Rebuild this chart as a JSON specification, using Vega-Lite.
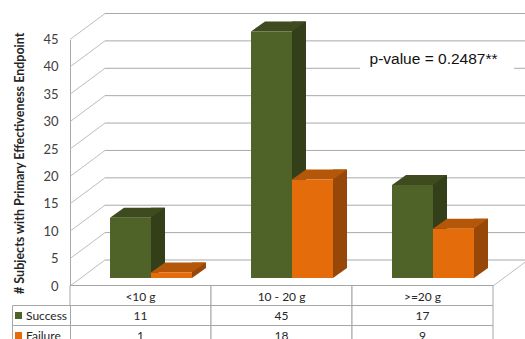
{
  "$schema": "https://vega.github.io/schema/vega-lite/v6.json",
  "width": 525,
  "height": 339,
  "padding": 0,
  "autosize": {"type": "none"},
  "background": "white",
  "config": {"view": {"stroke": null}, "font": "Lato"},
  "datasets": {
    "counts": [
      {"category": "<10 g", "outcome": "Success", "count": 11},
      {"category": "<10 g", "outcome": "Failure", "count": 1},
      {"category": "10 - 20 g", "outcome": "Success", "count": 45},
      {"category": "10 - 20 g", "outcome": "Failure", "count": 18},
      {"category": ">=20 g", "outcome": "Success", "count": 17},
      {"category": ">=20 g", "outcome": "Failure", "count": 9}
    ],
    "ticks": [
      {"v": 0}, {"v": 5}, {"v": 10}, {"v": 15}, {"v": 20},
      {"v": 25}, {"v": 30}, {"v": 35}, {"v": 40}, {"v": 45}
    ]
  },
  "resolve": {"scale": {"x": "independent", "y": "independent", "color": "independent", "xOffset": "independent"}},
  "layer": [
    {
      "description": "back wall gridlines plus the front value axis",
      "data": {"name": "ticks"},
      "mark": {"type": "rule", "color": "#A9A9A9", "strokeWidth": 1, "xOffset": 35, "x2Offset": 40, "yOffset": -26},
      "encoding": {
        "x": {"datum": "<10 g", "type": "nominal", "bandPosition": 0, "axis": null,
              "scale": {"type": "band", "domain": ["<10 g", "10 - 20 g", ">=20 g"], "range": [70, 493], "paddingInner": 0, "paddingOuter": 0}},
        "x2": {"datum": ">=20 g", "bandPosition": 1},
        "y": {"field": "v", "type": "quantitative",
              "scale": {"type": "linear", "domain": [0, 45], "range": [286, 39.5], "nice": false, "zero": false},
              "axis": {"orient": "left", "offset": -70, "values": [0, 5, 10, 15, 20, 25, 30, 35, 40, 45],
                       "ticks": false, "grid": false, "domain": true, "domainColor": "#A9A9A9", "domainWidth": 1,
                       "labelFont": "Lato", "labelFontSize": 13, "labelColor": "#404040", "labelPadding": 12,
                       "title": "# Subjects with Primary Effectiveness Endpoint",
                       "titleFont": "Lato", "titleFontSize": 12.5, "titleFontWeight": "bold", "titleColor": "#262626",
                       "titlePadding": 16}}
      }
    },
    {
      "description": "left wall diagonals",
      "data": {"name": "ticks"},
      "mark": {"type": "rule", "color": "#BDBDBD", "strokeWidth": 1, "x2Offset": 35, "y2Offset": -26},
      "encoding": {
        "x": {"datum": "<10 g", "type": "nominal", "bandPosition": 0, "axis": null,
              "scale": {"type": "band", "domain": ["<10 g", "10 - 20 g", ">=20 g"], "range": [70, 493], "paddingInner": 0, "paddingOuter": 0}},
        "x2": {"datum": "<10 g", "bandPosition": 0},
        "y": {"field": "v", "type": "quantitative", "axis": null,
              "scale": {"type": "linear", "domain": [0, 45], "range": [286, 39.5], "nice": false, "zero": false}},
        "y2": {"field": "v"}
      }
    },
    {
      "description": "right edge of the floor",
      "data": {"values": [{"v": 0}]},
      "mark": {"type": "rule", "color": "#BDBDBD", "strokeWidth": 1, "x2Offset": 35, "y2Offset": -26},
      "encoding": {
        "x": {"datum": ">=20 g", "type": "nominal", "bandPosition": 1, "axis": null,
              "scale": {"type": "band", "domain": ["<10 g", "10 - 20 g", ">=20 g"], "range": [70, 493], "paddingInner": 0, "paddingOuter": 0}},
        "x2": {"datum": ">=20 g", "bandPosition": 1},
        "y": {"field": "v", "type": "quantitative", "axis": null,
              "scale": {"type": "linear", "domain": [0, 45], "range": [286, 39.5], "nice": false, "zero": false}},
        "y2": {"field": "v"}
      }
    },
    {
      "description": "white box behind the p-value note",
      "data": {"values": [{"top": 43, "bottom": 38}]},
      "mark": {"type": "rect", "fill": "white", "xOffset": 8, "x2Offset": 21},
      "encoding": {
        "x": {"datum": ">=20 g", "type": "nominal", "bandPosition": 0, "axis": null,
              "scale": {"type": "band", "domain": ["<10 g", "10 - 20 g", ">=20 g"], "range": [70, 493], "paddingInner": 0, "paddingOuter": 0}},
        "x2": {"datum": ">=20 g", "bandPosition": 1},
        "y": {"field": "top", "type": "quantitative", "axis": null,
              "scale": {"type": "linear", "domain": [0, 45], "range": [286, 39.5], "nice": false, "zero": false}},
        "y2": {"field": "bottom"}
      }
    },
    {
      "description": "p-value note",
      "data": {"values": [{"note": "p-value = 0.2487**", "level": 41.5}]},
      "mark": {"type": "text", "font": "Liberation Sans", "fontSize": 15.5, "color": "#111111", "align": "center", "baseline": "middle", "xOffset": 11},
      "encoding": {
        "x": {"datum": ">=20 g", "type": "nominal", "axis": null,
              "scale": {"type": "band", "domain": ["<10 g", "10 - 20 g", ">=20 g"], "range": [70, 493], "paddingInner": 0, "paddingOuter": 0}},
        "y": {"field": "level", "type": "quantitative", "axis": null,
              "scale": {"type": "linear", "domain": [0, 45], "range": [286, 39.5], "nice": false, "zero": false}},
        "text": {"field": "note"}
      }
    },
    {
      "description": "data table cells, one per category and outcome",
      "data": {"name": "counts"},
      "mark": {"type": "rect", "fill": "white", "stroke": "#A6A6A6", "strokeWidth": 1},
      "encoding": {
        "x": {"field": "category", "type": "nominal", "axis": null,
              "scale": {"type": "band", "domain": ["<10 g", "10 - 20 g", ">=20 g"], "range": [70, 493], "paddingInner": 0, "paddingOuter": 0}},
        "y": {"field": "outcome", "type": "nominal", "axis": null,
              "scale": {"type": "band", "domain": ["header", "Success", "Failure"], "range": [285.5, 345.5], "paddingInner": 0, "paddingOuter": 0}}
      }
    },
    {
      "description": "data table header cells",
      "data": {"name": "counts"},
      "transform": [{"filter": "datum.outcome === 'Success'"}],
      "mark": {"type": "rect", "fill": "white", "stroke": "#A6A6A6", "strokeWidth": 1},
      "encoding": {
        "x": {"field": "category", "type": "nominal", "axis": null,
              "scale": {"type": "band", "domain": ["<10 g", "10 - 20 g", ">=20 g"], "range": [70, 493], "paddingInner": 0, "paddingOuter": 0}},
        "y": {"datum": "header", "type": "nominal", "axis": null,
              "scale": {"type": "band", "domain": ["header", "Success", "Failure"], "range": [285.5, 345.5], "paddingInner": 0, "paddingOuter": 0}}
      }
    },
    {
      "description": "category names in the table header",
      "data": {"name": "counts"},
      "transform": [{"filter": "datum.outcome === 'Success'"}],
      "mark": {"type": "text", "font": "Lato", "fontSize": 12, "color": "#262626", "baseline": "middle", "dy": 1},
      "encoding": {
        "x": {"field": "category", "type": "nominal", "axis": null,
              "scale": {"type": "band", "domain": ["<10 g", "10 - 20 g", ">=20 g"], "range": [70, 493], "paddingInner": 0, "paddingOuter": 0}},
        "y": {"datum": "header", "type": "nominal", "axis": null,
              "scale": {"type": "band", "domain": ["header", "Success", "Failure"], "range": [285.5, 345.5], "paddingInner": 0, "paddingOuter": 0}},
        "text": {"field": "category"}
      }
    },
    {
      "description": "counts in the table body",
      "data": {"name": "counts"},
      "mark": {"type": "text", "font": "Lato", "fontSize": 12, "color": "#262626", "baseline": "middle"},
      "encoding": {
        "x": {"field": "category", "type": "nominal", "axis": null,
              "scale": {"type": "band", "domain": ["<10 g", "10 - 20 g", ">=20 g"], "range": [70, 493], "paddingInner": 0, "paddingOuter": 0}},
        "y": {"field": "outcome", "type": "nominal", "axis": null,
              "scale": {"type": "band", "domain": ["header", "Success", "Failure"], "range": [285.5, 345.5], "paddingInner": 0, "paddingOuter": 0}},
        "text": {"field": "count", "type": "quantitative"}
      }
    },
    {
      "description": "row label cells",
      "data": {"name": "counts"},
      "transform": [{"filter": "datum.category === '<10 g'"}],
      "mark": {"type": "rect", "fill": "white", "stroke": "#A6A6A6", "strokeWidth": 1},
      "encoding": {
        "x": {"datum": "rowlabel", "type": "nominal", "axis": null,
              "scale": {"type": "band", "domain": ["rowlabel"], "range": [12.5, 70.5], "paddingInner": 0, "paddingOuter": 0}},
        "y": {"field": "outcome", "type": "nominal", "axis": null,
              "scale": {"type": "band", "domain": ["header", "Success", "Failure"], "range": [285.5, 345.5], "paddingInner": 0, "paddingOuter": 0}}
      }
    },
    {
      "description": "row label swatches",
      "data": {"name": "counts"},
      "transform": [{"filter": "datum.category === '<10 g'"}],
      "mark": {"type": "point", "shape": "square", "filled": true, "opacity": 1, "size": 49, "strokeWidth": 0, "xOffset": 6.5},
      "encoding": {
        "x": {"datum": "rowlabel", "type": "nominal", "bandPosition": 0, "axis": null,
              "scale": {"type": "band", "domain": ["rowlabel"], "range": [12, 70], "paddingInner": 0, "paddingOuter": 0}},
        "y": {"field": "outcome", "type": "nominal", "axis": null,
              "scale": {"type": "band", "domain": ["header", "Success", "Failure"], "range": [285.5, 345.5], "paddingInner": 0, "paddingOuter": 0}},
        "color": {"field": "outcome", "type": "nominal", "legend": null,
                  "scale": {"domain": ["Success", "Failure"], "range": ["#4F6228", "#E46C0A"]}}
      }
    },
    {
      "description": "row label names",
      "data": {"name": "counts"},
      "transform": [{"filter": "datum.category === '<10 g'"}],
      "mark": {"type": "text", "font": "Lato", "fontSize": 12, "color": "#262626", "align": "left", "baseline": "middle", "xOffset": 14},
      "encoding": {
        "x": {"datum": "rowlabel", "type": "nominal", "bandPosition": 0, "axis": null,
              "scale": {"type": "band", "domain": ["rowlabel"], "range": [12, 70], "paddingInner": 0, "paddingOuter": 0}},
        "y": {"field": "outcome", "type": "nominal", "axis": null,
              "scale": {"type": "band", "domain": ["header", "Success", "Failure"], "range": [285.5, 345.5], "paddingInner": 0, "paddingOuter": 0}},
        "text": {"field": "outcome"}
      }
    },
    {
      "description": "bar side faces (rectangular part); the category band is shifted to the right edge of each bar",
      "data": {"name": "counts"},
      "mark": {"type": "bar", "width": 14, "yOffset": -18, "y2Offset": -18},
      "encoding": {
        "x": {"field": "category", "type": "nominal", "axis": null,
              "scale": {"type": "band", "domain": ["<10 g", "10 - 20 g", ">=20 g"], "range": [108, 531], "paddingInner": 0, "paddingOuter": 0}},
        "xOffset": {"field": "outcome", "type": "nominal",
                    "scale": {"type": "band", "domain": ["Success", "Failure"], "paddingInner": 0, "paddingOuter": 0.72}},
        "y": {"field": "count", "type": "quantitative", "axis": null,
              "scale": {"type": "linear", "domain": [0, 45], "range": [286, 39.5], "nice": false, "zero": false}},
        "y2": {"datum": 0},
        "color": {"field": "outcome", "type": "nominal", "legend": null,
                  "scale": {"domain": ["Success", "Failure"], "range": ["#323F19", "#974707"]}}
      }
    },
    {
      "description": "bar side faces (lower corner)",
      "data": {"name": "counts"},
      "mark": {"type": "point", "shape": "M20.5,-10L20.5,0L34.5,-10Z", "size": 4, "filled": true, "opacity": 1, "strokeWidth": 0, "yOffset": -8},
      "encoding": {
        "x": {"field": "category", "type": "nominal", "axis": null,
              "scale": {"type": "band", "domain": ["<10 g", "10 - 20 g", ">=20 g"], "range": [80.5, 503.5], "paddingInner": 0, "paddingOuter": 0}},
        "xOffset": {"field": "outcome", "type": "nominal",
                    "scale": {"type": "band", "domain": ["Success", "Failure"], "paddingInner": 0, "paddingOuter": 0.72}},
        "y": {"datum": 0, "type": "quantitative", "axis": null,
              "scale": {"type": "linear", "domain": [0, 45], "range": [286, 39.5], "nice": false, "zero": false}},
        "color": {"field": "outcome", "type": "nominal", "legend": null,
                  "scale": {"domain": ["Success", "Failure"], "range": ["#323F19", "#974707"]}}
      }
    },
    {
      "description": "bar top faces",
      "data": {"name": "counts"},
      "mark": {"type": "point", "shape": "M-20.5,0L20.5,0L34.5,-10L-6.5,-10Z", "size": 4, "filled": true, "opacity": 1, "strokeWidth": 0, "yOffset": -8},
      "encoding": {
        "x": {"field": "category", "type": "nominal", "axis": null,
              "scale": {"type": "band", "domain": ["<10 g", "10 - 20 g", ">=20 g"], "range": [80.5, 503.5], "paddingInner": 0, "paddingOuter": 0}},
        "xOffset": {"field": "outcome", "type": "nominal",
                    "scale": {"type": "band", "domain": ["Success", "Failure"], "paddingInner": 0, "paddingOuter": 0.72}},
        "y": {"field": "count", "type": "quantitative", "axis": null,
              "scale": {"type": "linear", "domain": [0, 45], "range": [286, 39.5], "nice": false, "zero": false}},
        "color": {"field": "outcome", "type": "nominal", "legend": null,
                  "scale": {"domain": ["Success", "Failure"], "range": ["#3D4B1F", "#B55709"]}}
      }
    },
    {
      "description": "bar front faces",
      "data": {"name": "counts"},
      "mark": {"type": "bar", "yOffset": -8, "y2Offset": -8},
      "encoding": {
        "x": {"field": "category", "type": "nominal", "axis": null,
              "scale": {"type": "band", "domain": ["<10 g", "10 - 20 g", ">=20 g"], "range": [80.5, 503.5], "paddingInner": 0, "paddingOuter": 0}},
        "xOffset": {"field": "outcome", "type": "nominal",
                    "scale": {"type": "band", "domain": ["Success", "Failure"], "paddingInner": 0, "paddingOuter": 0.72}},
        "y": {"field": "count", "type": "quantitative", "axis": null,
              "scale": {"type": "linear", "domain": [0, 45], "range": [286, 39.5], "nice": false, "zero": false}},
        "y2": {"datum": 0},
        "color": {"field": "outcome", "type": "nominal", "legend": null,
                  "scale": {"domain": ["Success", "Failure"], "range": ["#4F6228", "#E46C0A"]}}
      }
    }
  ]
}
